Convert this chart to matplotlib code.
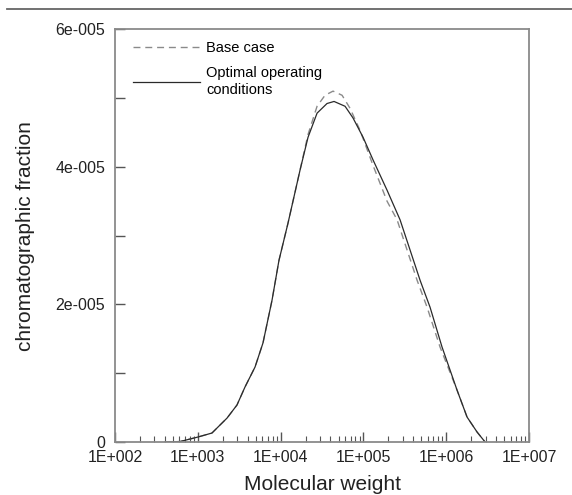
import numpy as np
import matplotlib.pyplot as plt
from matplotlib.lines import Line2D
from matplotlib.ticker import FixedLocator, FuncFormatter, LogLocator, NullFormatter

plt.rcParams["font.family"] = ["Liberation Sans", "DejaVu Sans"]

# -----------------------------
# Data
# -----------------------------
mw_optimal = [402, 610, 1005, 1483, 1854, 2254, 2972, 3715, 4909, 6124, 7870,
              9550, 12270, 17140, 21430, 27540, 36310, 44160, 59980, 74820,
              98860, 130600, 192800, 276700, 365600, 483100, 636800, 889200,
              1349000, 1782000, 2355000, 2944000]
frac_optimal = [0, 0.07, 0.73, 1.31, 2.47, 3.48, 5.38, 8.0, 10.9, 14.4, 20.6,
                26.4, 31.8, 39.5, 44.3, 47.8, 49.2, 49.5, 48.8, 47.1,
                44.3, 41.0, 36.6, 32.3, 27.9, 23.5, 19.6, 13.8,
                7.55, 3.63, 1.45, 0]

mw_base = [402, 610, 1005, 1483, 1854, 2254, 2972, 3715, 4909, 6124, 7870,
           9550, 12270, 17140, 21430, 27540, 34360, 42950, 55200, 68900,
           91000, 130600, 192800, 254700, 336500, 444600, 586100, 841400,
           1349000, 1782000, 2355000, 2944000]
frac_base = [0, 0.07, 0.73, 1.31, 2.47, 3.48, 5.38, 8.0, 10.9, 14.4, 20.6,
             26.4, 31.8, 39.5, 44.7, 48.8, 50.4, 51.0, 50.4, 48.5,
             45.3, 40.2, 35.0, 32.3, 27.9, 23.5, 19.6, 13.8,
             7.55, 3.63, 1.45, 0]

y_ticks = [0, 2e-5, 4e-5, 6e-5]
y_tick_labels = ["0", "2e-005", "4e-005", "6e-005"]
x_tick_labels = ["1E+002", "1E+003", "1E+004", "1E+005", "1E+006", "1E+007"]

# -----------------------------
# Figure
# -----------------------------
fig = plt.figure(figsize=(5.72, 4.95), dpi=100)
ax = fig.add_axes([0.201, 0.107, 0.724, 0.834])

ax.plot(mw_base, np.array(frac_base) * 1e-6, color="#8a8a8a",
        linestyle=(0, (5, 3.5)), linewidth=1.0, label="Base case")
ax.plot(mw_optimal, np.array(frac_optimal) * 1e-6, color="#2a2a2a",
        linewidth=0.9, label="Optimal operating\nconditions")

ax.set_xscale("log")
ax.set_xlim(1e2, 1e7)
ax.set_ylim(0, 6e-5)

# x ticks
ax.xaxis.set_major_locator(FixedLocator([1e2, 1e3, 1e4, 1e5, 1e6, 1e7]))
ax.xaxis.set_major_formatter(FuncFormatter(
    lambda v, p: x_tick_labels[int(round(np.log10(v))) - 2]))
ax.xaxis.set_minor_locator(LogLocator(base=10, subs=np.arange(2, 10)))
ax.xaxis.set_minor_formatter(NullFormatter())

# y ticks
ax.yaxis.set_major_locator(FixedLocator(y_ticks))
ax.yaxis.set_major_formatter(FuncFormatter(
    lambda v, p: y_tick_labels[int(round(v / 2e-5))]))
ax.yaxis.set_minor_locator(FixedLocator([1e-5, 3e-5, 5e-5]))

ax.tick_params(which="both", direction="in", colors="#555555",
               labelcolor="#222222", top=False, right=False)
ax.tick_params(axis="x", which="major", length=7, width=1.0,
               labelsize=11.5, pad=6)
ax.tick_params(axis="x", which="minor", length=4.5, width=0.8)
ax.tick_params(axis="y", which="both", length=7, width=1.0,
               labelsize=11.5, pad=7)

for s in ax.spines.values():
    s.set_color("#8a8a8a")
    s.set_linewidth(1.3)

ax.set_xlabel("Molecular weight", fontsize=15, color="#222222", labelpad=7)
ax.set_ylabel("chromatographic fraction", fontsize=15, color="#222222",
              labelpad=15)

ax.legend(loc="upper left", frameon=False, fontsize=10.5,
          handlelength=4.6, handletextpad=0.45, labelspacing=0.75,
          borderaxespad=0.3, bbox_to_anchor=(0.018, 0.995))

# rule across the top of the image
fig.add_artist(Line2D([7 / 572, 1.0], [1 - 8.7 / 495, 1 - 8.7 / 495],
                      transform=fig.transFigure, color="#666666",
                      linewidth=1.3))

plt.savefig("out.png", dpi=100)
plt.close()
